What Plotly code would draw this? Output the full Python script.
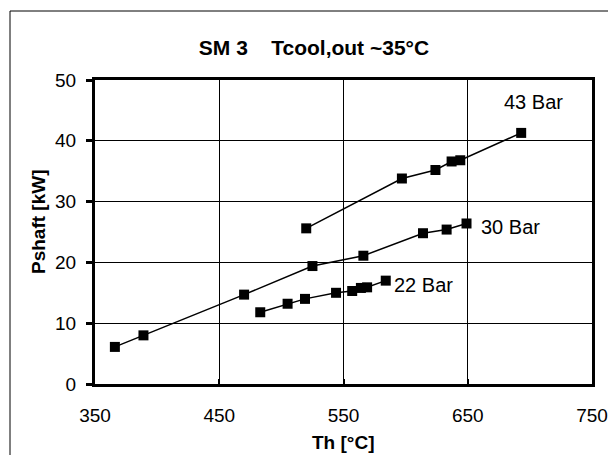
import plotly.graph_objects as go

# Data
th_43 = [520, 597, 624, 637, 644, 693]
p_43 = [25.6, 33.8, 35.2, 36.6, 36.8, 41.3]

th_30 = [366, 389, 470, 525, 566, 614, 633, 649]
p_30 = [6.1, 8.0, 14.7, 19.4, 21.1, 24.8, 25.4, 26.4]

th_22 = [483, 505, 519, 544, 557, 564, 569, 584]
p_22 = [11.8, 13.2, 14.0, 15.0, 15.3, 15.8, 15.9, 17.0]

series_labels = ["43 Bar", "30 Bar", "22 Bar"]
x_ticks = [350, 450, 550, 650, 750]
y_ticks = [0, 10, 20, 30, 40, 50]

FONT = "Arial, Liberation Sans, sans-serif"

fig = go.Figure()
for xs, ys, name in [(th_43, p_43, series_labels[0]),
                     (th_30, p_30, series_labels[1]),
                     (th_22, p_22, series_labels[2])]:
    fig.add_trace(go.Scatter(
        x=xs, y=ys, mode="lines+markers", name=name,
        line=dict(color="black", width=1.5),
        marker=dict(symbol="square", size=10, color="black"),
        showlegend=False, cliponaxis=False,
    ))

# Series labels
fig.add_annotation(x=703, y=46.4, text=series_labels[0], showarrow=False,
                   xanchor="center", yanchor="middle",
                   font=dict(family=FONT, size=20, color="black"))
fig.add_annotation(x=659, y=25.8, text=series_labels[1], showarrow=False,
                   xanchor="left", yanchor="middle",
                   font=dict(family=FONT, size=20, color="black"))
fig.add_annotation(x=589, y=16.3, text=series_labels[2], showarrow=False,
                   xanchor="left", yanchor="middle",
                   font=dict(family=FONT, size=20, color="black"))

L, R, T, B = 95, 16, 80, 71
pw, ph = 608 - L - R, 455 - T - B
def px(xp):
    return (xp - L) / pw
def py(yp):
    return (455 - B - yp) / ph

# Axis titles as annotations placed in paper space
fig.add_annotation(xref="paper", yref="paper", x=px(343), y=py(442),
                   text="<b>Th [°C]</b>", showarrow=False,
                   xanchor="center", yanchor="middle",
                   font=dict(family=FONT, size=19, color="black"))
fig.add_annotation(xref="paper", yref="paper", x=px(38), y=py(222),
                   text="<b>Pshaft [kW]</b>", showarrow=False, textangle=-90,
                   xanchor="center", yanchor="middle",
                   font=dict(family=FONT, size=19, color="black"))

# Outer chart border
fig.add_shape(type="rect", xref="paper", yref="paper",
              x0=px(10), x1=px(620), y0=py(470), y1=py(11),
              line=dict(color="black", width=1), layer="below")

fig.update_layout(
    width=608, height=455,
    margin=dict(l=L, r=R, t=T, b=B, pad=0, autoexpand=False),
    paper_bgcolor="white", plot_bgcolor="white",
    title=dict(text="<b>SM 3    Tcool,out ~35°C</b>", x=314 / 608, xanchor="center",
               y=1 - 48 / 455, yanchor="middle", automargin=False,
               font=dict(family=FONT, size=21, color="black")),
    font=dict(family=FONT, size=19, color="black"),
    xaxis=dict(
        range=[350, 750], tickvals=x_ticks, ticktext=[str(v) for v in x_ticks],
        showgrid=True, gridcolor="black", gridwidth=1,
        showline=True, linecolor="black", linewidth=2.5, mirror=True,
        ticks="inside", ticklen=5, tickcolor="black", tickwidth=2,
        ticklabelstandoff=12, automargin=False,
        tickfont=dict(family=FONT, size=19, color="black"),
        zeroline=False,
    ),
    yaxis=dict(
        range=[0, 50], tickvals=y_ticks,
        showgrid=True, gridcolor="black", gridwidth=1,
        showline=True, linecolor="black", linewidth=3, mirror=True,
        ticks="outside", ticklen=6, tickcolor="black", tickwidth=3,
        ticklabelstandoff=6, automargin=False,
        tickfont=dict(family=FONT, size=19, color="black"),
        zeroline=False,
    ),
)

fig.write_html("out.html", config={"displayModeBar": False},
               post_script="document.body.style.margin='0';document.body.style.padding='0';")
